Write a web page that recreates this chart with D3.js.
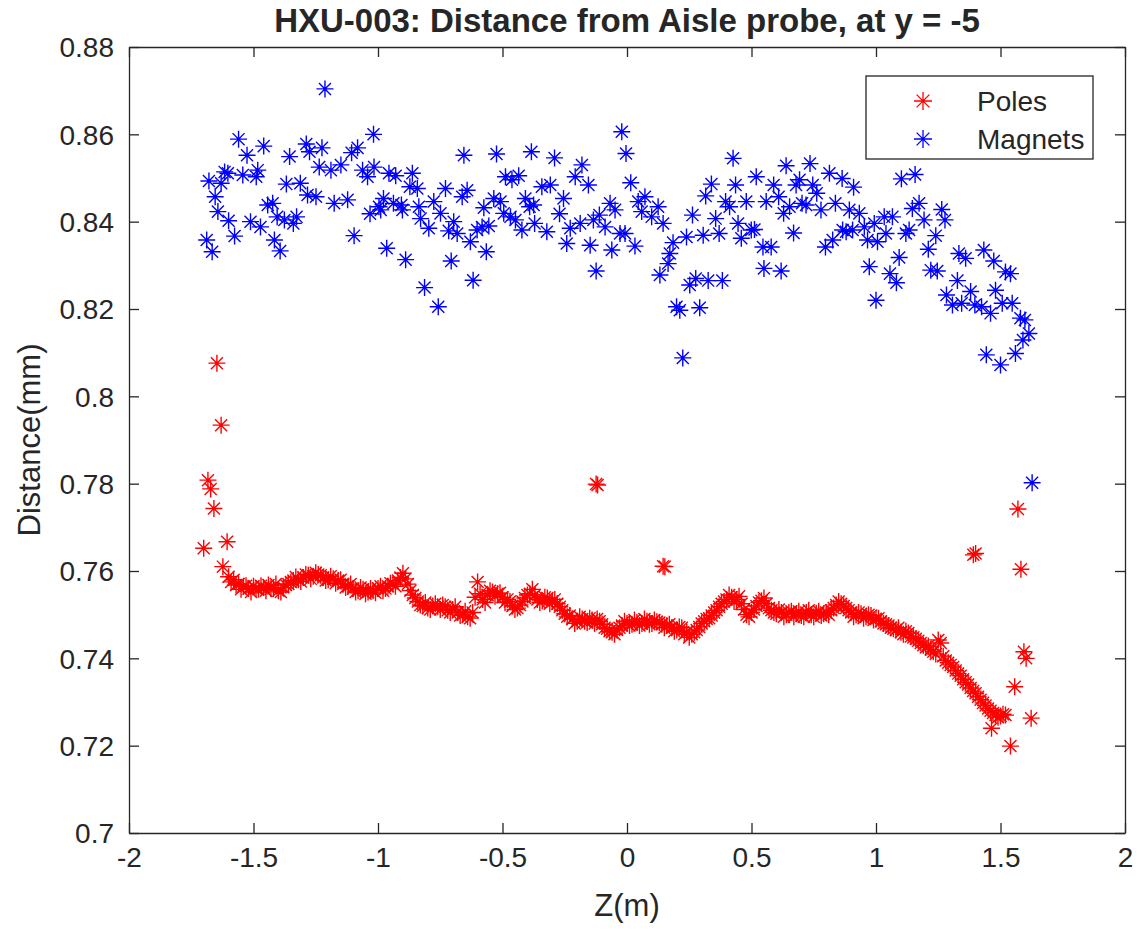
<!DOCTYPE html>
<html><head><meta charset="utf-8">
<script src="https://cdn.jsdelivr.net/npm/d3@7"></script>
<style>
body{margin:0;background:#fff}
text{font-family:"Liberation Sans",Arial,Helvetica,sans-serif;fill:#262626}
</style></head>
<body><svg id="chart" width="1141" height="934"></svg>
<script>
const chartTitle = "HXU-003: Distance from Aisle probe, at y = -5";
const xLabel = "Z(m)";
const yLabel = "Distance(mm)";
const seriesNames = ["Poles", "Magnets"];
const xTickValues = [-2, -1.5, -1, -0.5, 0, 0.5, 1, 1.5, 2];
const yTickValues = [0.7, 0.72, 0.74, 0.76, 0.78, 0.8, 0.82, 0.84, 0.86, 0.88];

// Poles: main band at even hundredths (z, distance)
const polesZ = [-1.60,-1.58,-1.56,-1.54,-1.52,-1.50,-1.48,-1.46,-1.44,-1.42,-1.40,-1.38,-1.36,-1.34,-1.32,-1.30,-1.28,-1.26,-1.24,-1.22,-1.20,-1.18,-1.16,-1.14,-1.12,-1.10,-1.08,-1.06,-1.04,-1.02,-1.00,-0.98,-0.96,-0.94,-0.92,-0.90,-0.88,-0.86,-0.84,-0.82,-0.80,-0.78,-0.76,-0.74,-0.72,-0.70,-0.68,-0.66,-0.64,-0.62,-0.60,-0.58,-0.56,-0.54,-0.52,-0.50,-0.48,-0.46,-0.44,-0.42,-0.40,-0.38,-0.36,-0.34,-0.32,-0.30,-0.28,-0.26,-0.24,-0.22,-0.20,-0.18,-0.16,-0.14,-0.12,-0.10,-0.08,-0.06,-0.04,-0.02,0.00,0.02,0.04,0.06,0.08,0.10,0.12,0.14,0.16,0.18,0.20,0.22,0.24,0.26,0.28,0.30,0.32,0.34,0.36,0.38,0.40,0.42,0.44,0.46,0.48,0.50,0.52,0.54,0.56,0.58,0.60,0.62,0.64,0.66,0.68,0.70,0.72,0.74,0.76,0.78,0.80,0.82,0.84,0.86,0.88,0.90,0.92,0.94,0.96,0.98,1.00,1.02,1.04,1.06,1.08,1.10,1.12,1.14,1.16,1.18,1.20,1.22,1.24,1.26,1.28,1.30,1.32,1.34,1.36,1.38,1.40,1.42,1.44,1.46,1.48,1.50,1.52,
  -1.647,-1.630,-1.683,-1.672,-1.659,-1.700,-1.606,-1.623,-0.124,-0.118,0.145,0.152,1.391,1.400,1.464,1.540,1.557,1.623,1.594,1.603,1.582,1.570];
const polesD = [0.7587,0.7580,0.7570,0.7565,0.7560,0.7565,0.7558,0.7562,0.7568,0.7560,0.7555,0.7562,0.7570,0.7578,0.7580,0.7585,0.7590,0.7588,0.7592,0.7585,0.7580,0.7582,0.7578,0.7570,0.7565,0.7560,0.7555,0.7558,0.7552,0.7555,0.7560,0.7555,0.7565,0.7570,0.7578,0.7595,0.7570,0.7545,0.7530,0.7520,0.7515,0.7520,0.7518,0.7522,0.7510,0.7512,0.7505,0.7500,0.7495,0.7505,0.7575,0.7535,0.7545,0.7552,0.7548,0.7540,0.7535,0.7520,0.7515,0.7530,0.7545,0.7558,0.7535,0.7532,0.7538,0.7530,0.7525,0.7510,0.7495,0.7490,0.7485,0.7490,0.7482,0.7488,0.7490,0.7478,0.7468,0.7460,0.7465,0.7475,0.7480,0.7478,0.7482,0.7480,0.7485,0.7480,0.7484,0.7478,0.7475,0.7470,0.7465,0.7470,0.7460,0.7455,0.7465,0.7480,0.7490,0.7498,0.7510,0.7525,0.7535,0.7540,0.7535,0.7525,0.7500,0.7505,0.7520,0.7532,0.7525,0.7510,0.7502,0.7505,0.7500,0.7508,0.7502,0.7498,0.7505,0.7500,0.7503,0.7498,0.7505,0.7510,0.7522,0.7525,0.7515,0.7505,0.7500,0.7502,0.7495,0.7498,0.7490,0.7485,0.7478,0.7470,0.7465,0.7460,0.7462,0.7450,0.7445,0.7435,0.7425,0.7420,0.7410,0.7435,0.7395,0.7385,0.7372,0.7360,0.7345,0.7332,0.7320,0.7305,0.7292,0.7280,0.7270,0.7268,0.7270,
  0.8076,0.7934,0.7808,0.7788,0.7743,0.7652,0.7667,0.7610,0.7799,0.7797,0.7611,0.7610,0.7637,0.7640,0.7240,0.7199,0.7335,0.7263,0.7415,0.7400,0.7604,0.7742];

// Poles: band readings at odd hundredths (z, distance)
const polesZ2 = [-1.59,-1.57,-1.55,-1.53,-1.51,-1.49,-1.47,-1.45,-1.43,-1.41,-1.39,-1.37,-1.35,-1.33,-1.31,-1.29,-1.27,-1.25,-1.23,-1.21,-1.19,-1.17,-1.15,-1.13,-1.11,-1.09,-1.07,-1.05,-1.03,-1.01,-0.99,-0.97,-0.95,-0.93,-0.91,-0.89,-0.87,-0.85,-0.83,-0.81,-0.79,-0.77,-0.75,-0.73,-0.71,-0.69,-0.67,-0.65,-0.63,-0.61,-0.59,-0.57,-0.55,-0.53,-0.51,-0.49,-0.47,-0.45,-0.43,-0.41,-0.39,-0.37,-0.35,-0.33,-0.31,-0.29,-0.27,-0.25,-0.23,-0.21,-0.19,-0.17,-0.15,-0.13,-0.11,-0.09,-0.07,-0.05,-0.03,-0.01,0.01,0.03,0.05,0.07,0.09,0.11,0.13,0.15,0.17,0.19,0.21,0.23,0.25,0.27,0.29,0.31,0.33,0.35,0.37,0.39,0.41,0.43,0.45,0.47,0.49,0.51,0.53,0.55,0.57,0.59,0.61,0.63,0.65,0.67,0.69,0.71,0.73,0.75,0.77,0.79,0.81,0.83,0.85,0.87,0.89,0.91,0.93,0.95,0.97,0.99,1.01,1.03,1.05,1.07,1.09,1.11,1.13,1.15,1.17,1.19,1.21,1.23,1.25,1.27,1.29,1.31,1.33,1.35,1.37,1.39,1.41,1.43,1.45,1.47,1.49,1.51];
const polesD2 = [0.7575,0.7568,0.7558,0.7566,0.7552,0.7560,0.7566,0.7555,0.7560,0.7570,0.7552,0.7568,0.7575,0.7586,0.7576,0.7592,0.7582,0.7596,0.7590,0.7578,0.7588,0.7572,0.7580,0.7562,0.7570,0.7552,0.7562,0.7548,0.7560,0.7550,0.7565,0.7560,0.7572,0.7565,0.7585,0.7582,0.7555,0.7538,0.7522,0.7528,0.7512,0.7525,0.7512,0.7518,0.7505,0.7518,0.7498,0.7508,0.7492,0.7540,0.7548,0.7528,0.7555,0.7542,0.7550,0.7528,0.7530,0.7512,0.7522,0.7538,0.7548,0.7545,0.7528,0.7540,0.7525,0.7535,0.7518,0.7502,0.7498,0.7480,0.7495,0.7485,0.7492,0.7480,0.7485,0.7470,0.7462,0.7455,0.7470,0.7485,0.7475,0.7488,0.7475,0.7490,0.7478,0.7488,0.7482,0.7470,0.7478,0.7462,0.7472,0.7455,0.7448,0.7460,0.7472,0.7485,0.7492,0.7505,0.7518,0.7530,0.7545,0.7530,0.7542,0.7512,0.7495,0.7512,0.7528,0.7538,0.7515,0.7505,0.7512,0.7495,0.7505,0.7495,0.7508,0.7495,0.7510,0.7495,0.7508,0.7502,0.7500,0.7515,0.7530,0.7520,0.7510,0.7495,0.7505,0.7492,0.7500,0.7488,0.7492,0.7480,0.7475,0.7468,0.7470,0.7455,0.7458,0.7448,0.7440,0.7430,0.7428,0.7415,0.7442,0.7405,0.7390,0.7380,0.7365,0.7352,0.7340,0.7325,0.7312,0.7298,0.7285,0.7275,0.7265,0.7272];

// Magnets (z, distance)
const magnetsZ = [-1.560,-1.459,-1.526,-1.355,-1.288,-1.275,-1.225,-1.106,-1.082,-1.018,-1.679,-1.616,-1.630,-1.603,-1.543,-1.489,-1.483,-1.654,-1.643,-1.600,-1.688,-1.666,-1.576,-1.512,-1.472,-1.443,-1.423,-1.405,-1.416,-1.393,-1.368,-1.312,-1.283,-1.249,-1.340,-1.327,-1.376,-1.236,-1.189,-1.149,-1.176,-1.122,-1.096,-1.062,-1.042,-1.016,-1.032,-0.996,-1.213,
  -0.956,-0.929,-0.862,-0.872,-0.842,-0.978,-0.989,-0.938,-0.906,-0.902,-0.965,-0.889,-0.836,-0.829,-0.796,-0.776,-0.749,-0.729,-0.716,-0.696,-0.682,-0.662,-0.642,-0.655,-0.813,-0.758,-0.706,-0.629,-0.618,-0.565,-0.602,-0.582,-0.555,-0.575,-0.535,-0.524,-0.508,-0.488,-0.462,-0.435,-0.495,-0.468,-0.448,-0.422,-0.408,-0.384,-0.375,-0.391,-0.371,-0.342,-0.308,-0.322,-0.291,-0.271,-0.255,-0.242,-0.228,-0.208,-0.181,-0.155,-0.188,-0.148,-0.124,-0.135,-0.111,-0.088,-0.068,-0.048,-0.061,-0.028,-0.008,-0.021,-0.004,
  0.015,0.032,0.045,0.072,0.059,0.099,0.125,0.145,0.185,0.172,0.165,0.132,0.239,0.252,0.276,0.326,0.383,0.199,0.212,0.292,0.263,0.306,0.316,0.339,0.356,0.370,0.396,0.412,0.426,0.436,0.446,0.459,0.479,0.499,0.512,0.519,0.546,0.550,0.559,0.579,0.589,0.619,0.609,0.629,0.639,0.653,0.669,0.679,0.693,0.703,0.719,0.735,0.746,0.762,0.779,0.797,0.813,0.837,0.826,0.864,0.880,0.893,0.910,0.933,0.953,0.966,0.973,0.993,1.000,0.906,0.866,0.224,
  1.102,1.157,1.146,1.173,1.193,1.264,1.277,1.033,1.066,1.040,1.006,1.120,1.133,1.240,1.210,1.093,1.056,1.082,1.220,1.246,1.333,1.360,1.433,1.473,1.520,1.540,1.327,1.380,1.283,1.307,1.344,1.397,1.424,1.460,1.480,1.507,1.547,1.580,1.598,1.614,1.590,1.560,1.443,1.500,1.627];
const magnetsD = [0.8589,0.8573,0.8552,0.8549,0.8578,0.8560,0.8569,0.8558,0.8569,0.8600,0.8493,0.8514,0.8488,0.8511,0.8507,0.8503,0.8518,0.8457,0.8423,0.8402,0.8358,0.8331,0.8367,0.8400,0.8388,0.8438,0.8442,0.8411,0.8358,0.8333,0.8486,0.8488,0.8461,0.8457,0.8396,0.8411,0.8404,0.8525,0.8518,0.8530,0.8442,0.8450,0.8368,0.8518,0.8503,0.8525,0.8418,0.8434,0.8704,
  0.8511,0.8505,0.8511,0.8480,0.8476,0.8453,0.8427,0.8442,0.8438,0.8427,0.8339,0.8313,0.8434,0.8407,0.8385,0.8446,0.8419,0.8476,0.8379,0.8400,0.8373,0.8457,0.8472,0.8552,0.8249,0.8205,0.8310,0.8354,0.8266,0.8331,0.8381,0.8388,0.8390,0.8432,0.8453,0.8555,0.8446,0.8503,0.8496,0.8505,0.8419,0.8411,0.8404,0.8381,0.8453,0.8560,0.8438,0.8434,0.8396,0.8480,0.8484,0.8377,0.8546,0.8418,0.8453,0.8350,0.8385,0.8503,0.8530,0.8484,0.8396,0.8346,0.8287,0.8404,0.8415,0.8388,0.8442,0.8427,0.8335,0.8373,0.8373,0.8606,0.8556,
  0.8489,0.8344,0.8446,0.8457,0.8423,0.8411,0.8434,0.8396,0.8352,0.8327,0.8304,0.8278,0.8365,0.8255,0.8270,0.8265,0.8265,0.8205,0.8197,0.8203,0.8415,0.8369,0.8459,0.8486,0.8407,0.8373,0.8446,0.8434,0.8545,0.8484,0.8396,0.8362,0.8446,0.8381,0.8382,0.8503,0.8342,0.8293,0.8446,0.8342,0.8484,0.8287,0.8457,0.8419,0.8528,0.8434,0.8374,0.8484,0.8496,0.8442,0.8438,0.8533,0.8484,0.8465,0.8427,0.8342,0.8511,0.8442,0.8358,0.8499,0.8377,0.8427,0.8479,0.8419,0.8388,0.8358,0.8297,0.8396,0.8220,0.8381,0.8381,0.8088,
  0.8498,0.8508,0.8430,0.8442,0.8404,0.8428,0.8404,0.8411,0.8411,0.8373,0.8354,0.8373,0.8381,0.8368,0.8337,0.8318,0.8281,0.8260,0.8289,0.8287,0.8327,0.8316,0.8335,0.8310,0.8285,0.8281,0.8265,0.8240,0.8232,0.8209,0.8213,0.8209,0.8205,0.8190,0.8243,0.8213,0.8213,0.8179,0.8175,0.8144,0.8129,0.8098,0.8095,0.8072,0.7802];

const colors = ["#ff0000", "#0000ff"];

const svg = d3.select("#chart");
const pLeft = 129, pRight = 1125, pTop = 47, pBottom = 833;
const x = d3.scaleLinear().domain([-2, 2]).range([pLeft, pRight]);
const y = d3.scaleLinear().domain([0.7, 0.88]).range([pBottom, pTop]);
const axisColor = "#262626";

function starPath(r) {
  const d = r * 0.7071;
  return `M${-r},0L${r},0M0,${-r}L0,${r}M${-d},${-d}L${d},${d}M${-d},${d}L${d},${-d}`;
}
const star = starPath(8.5);

const tickFmt = d => String(d);

// axes
const gx = svg.append("g").attr("transform", `translate(0,${pBottom})`)
  .call(d3.axisBottom(x).tickValues(xTickValues).tickFormat(tickFmt).tickSizeInner(-10).tickSizeOuter(0).tickPadding(14));
const gxt = svg.append("g").attr("transform", `translate(0,${pTop})`)
  .call(d3.axisTop(x).tickValues(xTickValues).tickFormat("").tickSizeInner(-10).tickSizeOuter(0));
const gy = svg.append("g").attr("transform", `translate(${pLeft},0)`)
  .call(d3.axisLeft(y).tickValues(yTickValues).tickFormat(tickFmt).tickSizeInner(-10).tickSizeOuter(0).tickPadding(15));
const gyr = svg.append("g").attr("transform", `translate(${pRight},0)`)
  .call(d3.axisRight(y).tickValues(yTickValues).tickFormat("").tickSizeInner(-10).tickSizeOuter(0));
[gx, gxt, gy, gyr].forEach(g => {
  g.select(".domain").attr("stroke", axisColor).attr("stroke-width", 1.3);
  g.selectAll(".tick line").attr("stroke", axisColor).attr("stroke-width", 1.3);
  g.selectAll(".tick text").attr("fill", axisColor).style("font-size", "28px")
    .style("font-family", '"Liberation Sans",Arial,sans-serif');
});
gx.selectAll(".tick text").attr("dy", "0.71em");
gy.selectAll(".tick text").attr("dy", "0.35em");

// points
const plot = svg.append("g");
const poles = polesZ.map((z, i) => ({z, d: polesD[i]}))
  .concat(polesZ2.map((z, i) => ({z, d: polesD2[i]})));
const magnets = magnetsZ.map((z, i) => ({z, d: magnetsD[i]}));
[poles, magnets].forEach((data, k) => {
  plot.append("g").selectAll("path").data(data).join("path")
    .attr("d", star)
    .attr("transform", p => `translate(${x(p.z)},${y(p.d)})`)
    .attr("fill", "none").attr("stroke", colors[k]).attr("stroke-width", 1.4);
});

// title & labels
svg.append("text").attr("x", (pLeft + pRight) / 2).attr("y", 32).attr("text-anchor", "middle")
  .style("font-size", "33px").style("font-weight", "bold").attr("fill", "#000").text(chartTitle);
svg.append("text").attr("x", (pLeft + pRight) / 2).attr("y", 916).attr("text-anchor", "middle")
  .style("font-size", "31px").text(xLabel);
svg.append("text").attr("transform", `translate(40,${(pTop + pBottom) / 2}) rotate(-90)`).attr("text-anchor", "middle")
  .style("font-size", "31px").text(yLabel);

// legend
const lg = svg.append("g");
lg.append("rect").attr("x", 866).attr("y", 76).attr("width", 227).attr("height", 83)
  .attr("fill", "#fff").attr("stroke", axisColor).attr("stroke-width", 1.3);
seriesNames.forEach((name, k) => {
  const cy = 101 + k * 38;
  lg.append("path").attr("d", starPath(9)).attr("transform", `translate(923,${cy})`)
    .attr("fill", "none").attr("stroke", colors[k]).attr("stroke-width", 1.3);
  lg.append("text").attr("x", 977).attr("y", cy).attr("dy", "0.35em")
    .style("font-size", "28px").text(name);
});
</script></body></html>
